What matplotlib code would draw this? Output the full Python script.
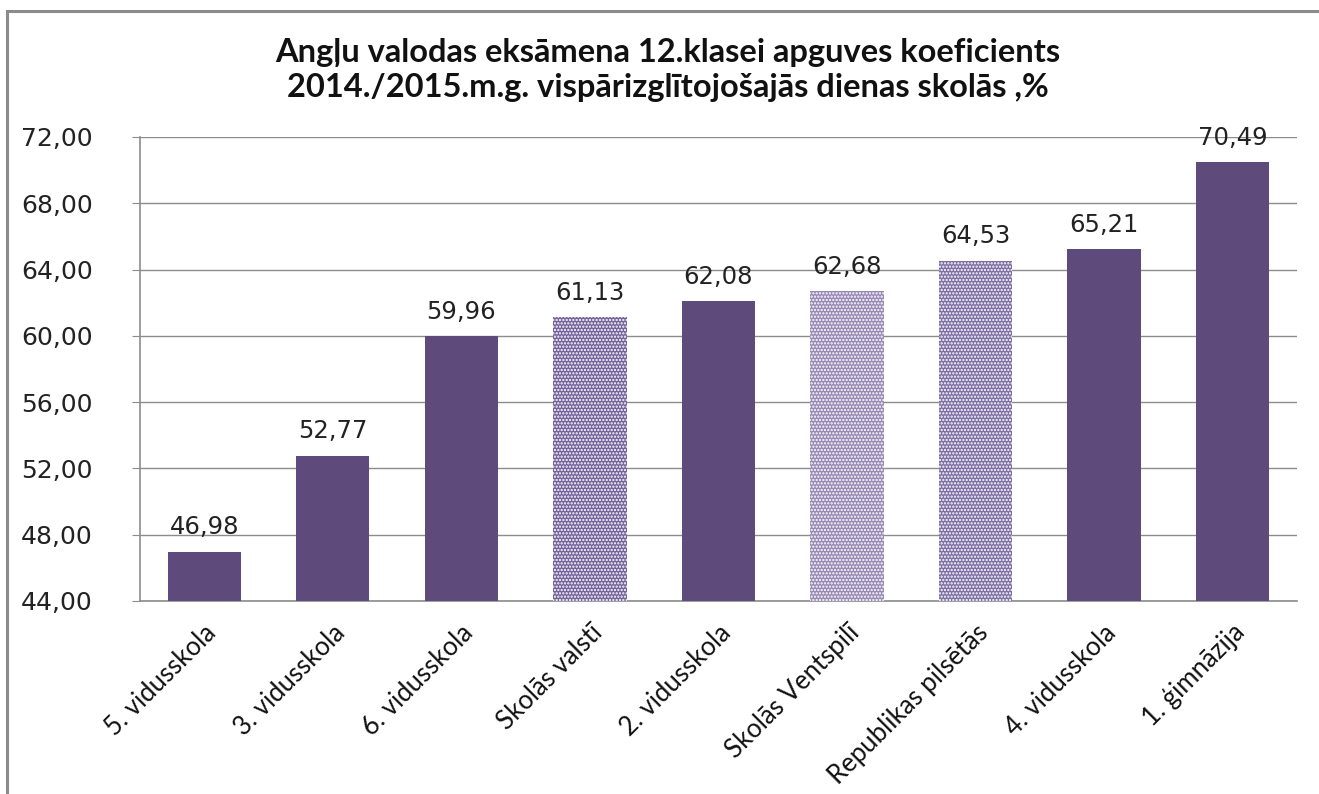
import matplotlib.pyplot as plt
from matplotlib.patches import Rectangle
import numpy as np

# data
categories = ['5. vidusskola', '3. vidusskola', '6. vidusskola', 'Skolās valstī',
              '2. vidusskola', 'Skolās Ventspilī', 'Republikas pilsētās',
              '4. vidusskola', '1. ģimnāzija']
values = [46.98, 52.77, 59.96, 61.13, 62.08, 62.68, 64.53, 65.21, 70.49]
yticks = [44, 48, 52, 56, 60, 64, 68, 72]

solid = '#5F4B7B'
# patterned bars (comparison groups) get a dotted fill
fills = {'Skolās valstī': '#72619A',
         'Skolās Ventspilī': '#9788B3',
         'Republikas pilsētās': '#7D6DA3'}

def fmt(v):
    return ('%.2f' % v).replace('.', ',')

plt.rcParams['hatch.linewidth'] = 1.1

fig = plt.figure(figsize=(13.19, 7.94), dpi=100)
ax = fig.add_axes([0.1061, 0.2431, 0.8772, 0.5844])

# outer gray frame of the embedded chart
fig.patches.append(Rectangle((0.0053, -0.05), 1.1, 1.036, transform=fig.transFigure,
                             fill=False, edgecolor='#8c8c8c', linewidth=2.2))

x = np.arange(len(categories))
for i, (c, v) in enumerate(zip(categories, values)):
    if c in fills:
        ax.bar(x[i], v - 44, bottom=44, width=0.57, color=fills[c],
               edgecolor='white', linewidth=0, hatch='.....', zorder=3)
    else:
        ax.bar(x[i], v - 44, bottom=44, width=0.57, color=solid, zorder=3)
    ax.text(x[i], v + 0.75, fmt(v), ha='center', va='bottom', fontsize=17.5,
            family='DejaVu Sans', color='#222222', zorder=4)

ax.set_xlim(-0.5, len(categories) - 0.5)
ax.set_ylim(44, 72)
ax.set_yticks(yticks)
ax.set_yticklabels([fmt(t) for t in yticks], fontsize=18, family='DejaVu Sans',
                   color='#222222')
ax.yaxis.grid(True, color='#8c8c8c', linewidth=1.0, zorder=0)
ax.set_axisbelow(True)
ax.tick_params(axis='y', length=6, color='#8c8c8c', pad=28)
ax.tick_params(axis='x', length=0)

ax.set_xticks(x)
ax.set_xticklabels([])
for i, c in enumerate(categories):
    ax.annotate(c, xy=(x[i], 44), xycoords='data', xytext=(6, -20),
                textcoords='offset points', rotation=45, ha='right', va='center',
                rotation_mode='anchor', fontsize=18.5, family='Lato', color='#111111')

for s in ['top', 'right']:
    ax.spines[s].set_visible(False)
for s in ['left', 'bottom']:
    ax.spines[s].set_color('#8c8c8c')
    ax.spines[s].set_linewidth(1.2)

fig.text(0.5065, 0.912, 'Angļu valodas eksāmena 12.klasei apguves koeficients\n'
         '2014./2015.m.g. vispārizglītojošajās dienas skolās ,%',
         ha='center', va='center', fontsize=23.5, fontweight='bold', family='Lato',
         linespacing=1.22, color='#111111')

fig.savefig('out.png', dpi=100)
